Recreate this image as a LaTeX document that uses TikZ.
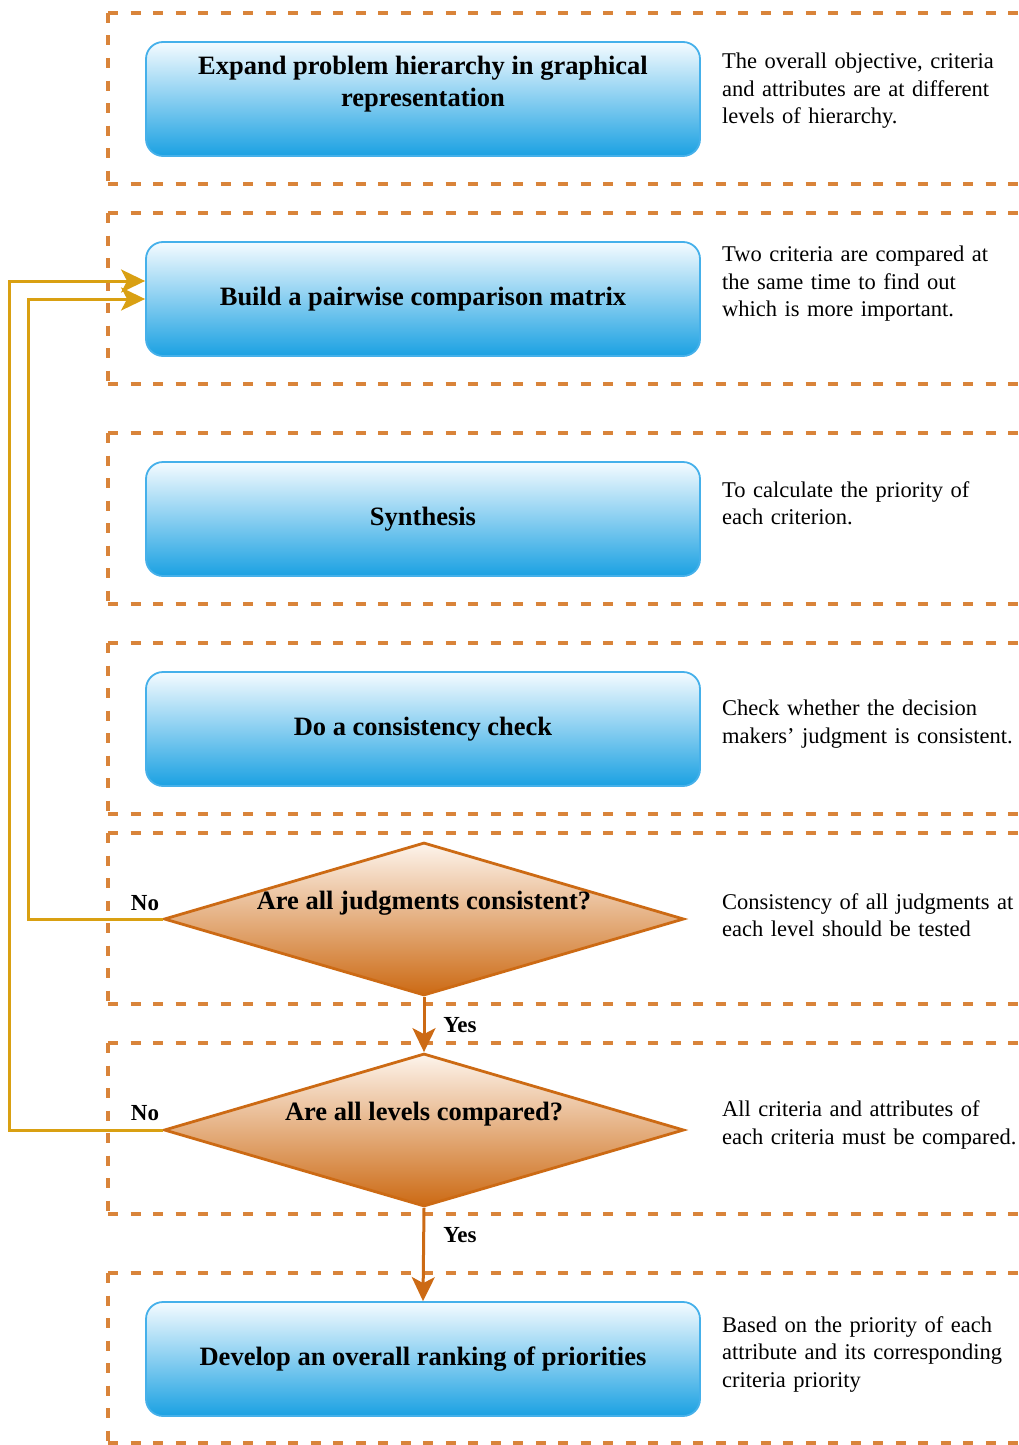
\documentclass[tikz,border=0pt]{standalone}
\usepackage{fontspec}
\setmainfont{Liberation Serif}
\usetikzlibrary{shapes.geometric,arrows.meta,calc}

\definecolor{framecol}{HTML}{D9843A}
\definecolor{boxline}{HTML}{45B0EA}
\definecolor{boxtop}{HTML}{F4FBFF}
\definecolor{boxbot}{HTML}{1BA1E2}
\definecolor{decline}{HTML}{CC6A14}
\definecolor{dectop}{HTML}{FDF4EC}
\definecolor{decbot}{HTML}{CC6A14}
\definecolor{loopcol}{HTML}{D9A012}

\tikzset{
  frameline/.style={draw=framecol, line width=3.4pt, dash pattern=on 10pt off 12.5pt},
  stepbox/.style={draw=boxline, line width=1.8pt, rounded corners=17pt,
    top color=boxtop, bottom color=boxbot,
    minimum width=554pt, minimum height=114pt, inner sep=0pt,
    font=\bfseries\fontsize{26.5}{32}\selectfont, align=center},
  decision/.style={shape=diamond, draw=decline, line width=2.8pt,
    top color=dectop, bottom color=decbot,
    minimum width=520pt, minimum height=153pt, inner sep=0pt},
  dectext/.style={font=\bfseries\fontsize{26.5}{32}\selectfont, yshift=16pt},
  note/.style={anchor=west, align=left, text width=300pt, inner sep=0pt,
    font=\fontsize{22.5}{27.5}\selectfont},
  flowlabel/.style={font=\bfseries\fontsize{23}{28}\selectfont, inner sep=0pt},
  flow/.style={draw=decline, line width=3pt,
    -{Stealth[length=24pt, width=23pt, inset=6pt]}},
  backloop/.style={draw=loopcol, line width=3pt,
    -{Stealth[length=24pt, width=23pt, inset=6pt]}}
}

\begin{document}
\begin{tikzpicture}[x=1pt,y=-1pt]
\useasboundingbox (0,0) rectangle (1019,1445);

% dashed bands, open to the right
\foreach \t/\b in {13/184, 213/384, 433/604, 643/814, 833/1004, 1043/1214, 1273/1443}{
  \draw[frameline] (108,\t) -- (1025,\t);
  \draw[frameline] (108,\t) -- (108,\b);
  \draw[frameline] (108,\b) -- (1025,\b);
}

% process steps
\node[stepbox, label={[font=\bfseries\fontsize{26.5}{32}\selectfont, align=center, yshift=15pt]center:Expand problem hierarchy in graphical\\representation}] (b1) at (423,99) {};
\node[stepbox] (b2) at (423,299) {Build a pairwise comparison matrix};
\node[stepbox] (b3) at (423,519) {Synthesis};
\node[stepbox] (b4) at (423,729) {Do a consistency check};
\node[decision, label={[dectext]center:Are all judgments consistent?}] (d1) at (424,919) {};
\node[decision, label={[dectext]center:Are all levels compared?}] (d2) at (424,1130) {};
\node[stepbox] (b7) at (423,1359) {Develop an overall ranking of priorities};

% explanations
\node[note] (n1) at (722,91) {The overall objective, criteria\\and attributes are at different\\levels of hierarchy.};
\node[note] (n2) at (722,284) {Two criteria are compared at\\the same time to find out\\which is more important.};
\node[note] (n3) at (722,503) {To calculate the priority of\\each criterion.};
\node[note] (n4) at (722,724) {Check whether the decision\\makers' judgment is consistent.};
\node[note] (n5) at (722,915) {Consistency of all judgments at\\each level should be tested};
\node[note] (n6) at (722,1125) {All criteria and attributes of\\each criteria must be compared.};
\node[note] (n7) at (722,1354) {Based on the priority of each\\attribute and its corresponding\\criteria priority};

% forward flow
\draw[flow] (d1.south) -- (d2.north);
\draw[flow] (d2.south) -- (b7.north);
\node[flowlabel] (y1) at (460,1025) {Yes};
\node[flowlabel] (y2) at (460,1235) {Yes};

% feedback loops
\draw[backloop] (d2.west) -- ++(-153,0) |- ($(b2.west)+(0,-18)$);
\draw[backloop] (d1.west) -- ++(-134,0) |- (b2.west);
\node[flowlabel] (no1) at (145,903) {No};
\node[flowlabel] (no2) at (145,1113) {No};
\end{tikzpicture}
\end{document}
